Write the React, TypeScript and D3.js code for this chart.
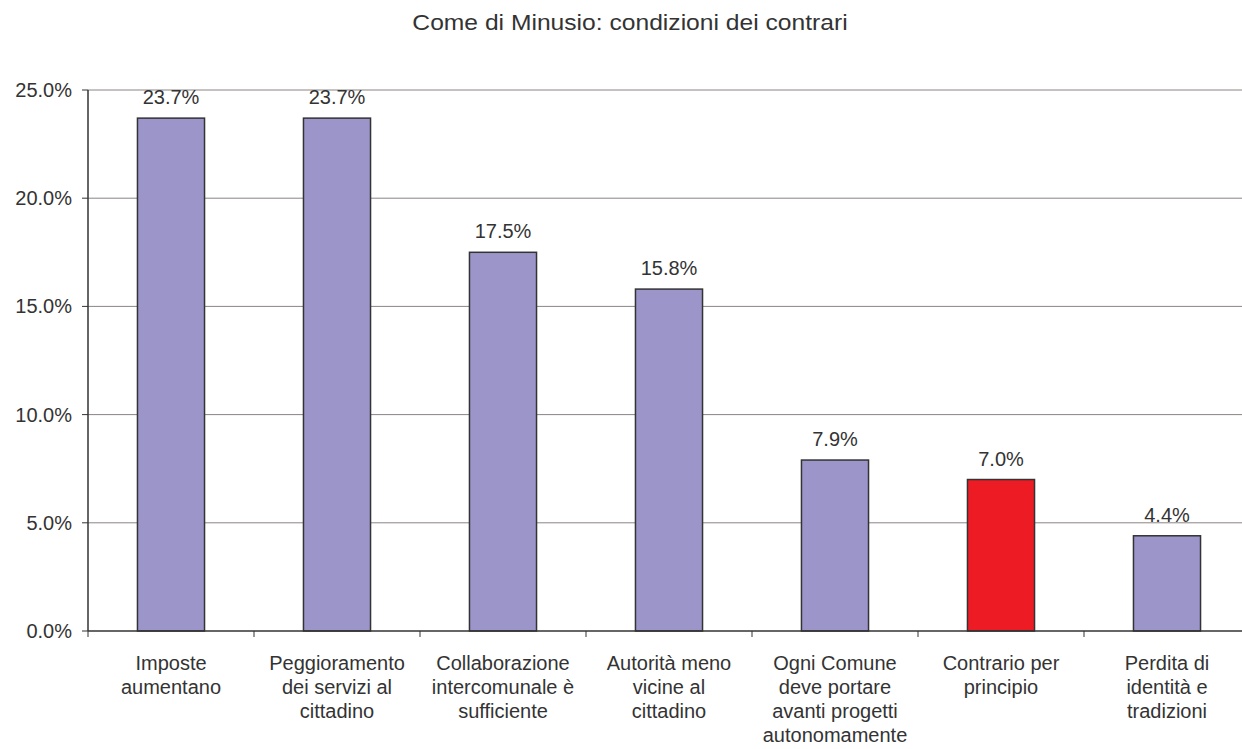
import React from "react";
import * as d3 from "d3";

const title = "Come di Minusio: condizioni dei contrari";
const categories: string[][] = [
  ["Imposte", "aumentano"],
  ["Peggioramento", "dei servizi al", "cittadino"],
  ["Collaborazione", "intercomunale è", "sufficiente"],
  ["Autorità meno", "vicine al", "cittadino"],
  ["Ogni Comune", "deve portare", "avanti progetti", "autonomamente"],
  ["Contrario per", "principio"],
  ["Perdita di", "identità e", "tradizioni"],
];
const values = [23.7, 23.7, 17.5, 15.8, 7.9, 7.0, 4.4];
const highlighted = [false, false, false, false, false, true, false];
const yTicks = [0, 5, 10, 15, 20, 25];

const W = 1242;
const H = 749;
const left = 88;
const right = 1250;
const top = 90;
const bottom = 631;
const FONT = "'Liberation Sans', Arial, Helvetica, sans-serif";
const TEXT = "#333333";

export default function App() {
  const x = d3
    .scaleBand<number>()
    .domain(d3.range(values.length))
    .range([left, right])
    .paddingInner(0.596)
    .paddingOuter(0.298);
  const y = d3.scaleLinear().domain([0, 25]).range([bottom, top]);
  const step = x.step();
  const tickXs = d3.range(values.length + 1).map((i) => left + i * step);

  return (
    <svg
      width={W}
      height={H}
      style={{ position: "absolute", left: 0, top: 0, background: "#fff" }}
      fontFamily={FONT}
    >
      <rect x={0} y={0} width={W} height={H} fill="#fff" />
      <g transform={`translate(630,30) scale(1.12,1)`}>
        <text textAnchor="middle" fontSize={22} fill={TEXT}>
          {title}
        </text>
      </g>
      {yTicks.map((t) => (
        <g key={t}>
          {t > 0 && (
            <line x1={left} x2={right} y1={y(t)} y2={y(t)} stroke="#8c8484" strokeWidth={1} />
          )}
          <line x1={left - 6} x2={left} y1={y(t)} y2={y(t)} stroke="#333" strokeWidth={1} />
          <text
            x={72}
            y={y(t)}
            dy="0.35em"
            textAnchor="end"
            fontSize={20}
            fill={TEXT}
          >
            {t.toFixed(1) + "%"}
          </text>
        </g>
      ))}
      {values.map((v, i) => (
        <g key={i}>
          <rect
            x={x(i)}
            y={y(v)}
            width={x.bandwidth()}
            height={y(0) - y(v)}
            fill={highlighted[i] ? "#ed1c24" : "#9b95c9"}
            stroke="#333"
            strokeWidth={1.5}
          />
          <text
            x={(x(i) as number) + x.bandwidth() / 2}
            y={y(v) - 14}
            textAnchor="middle"
            fontSize={20}
            fill={TEXT}
          >
            {v.toFixed(1) + "%"}
          </text>
          {categories[i].map((line, j) => (
            <text
              key={j}
              x={(x(i) as number) + x.bandwidth() / 2}
              y={670 + j * 24}
              textAnchor="middle"
              fontSize={20}
              fill={TEXT}
            >
              {line}
            </text>
          ))}
        </g>
      ))}
      <line x1={left} x2={left} y1={top} y2={bottom} stroke="#333" strokeWidth={1.5} />
      <line x1={left} x2={right} y1={bottom} y2={bottom} stroke="#333" strokeWidth={1.5} />
      {tickXs.map((tx, i) => (
        <line key={i} x1={tx} x2={tx} y1={bottom} y2={bottom + 6} stroke="#333" strokeWidth={1} />
      ))}
    </svg>
  );
}
